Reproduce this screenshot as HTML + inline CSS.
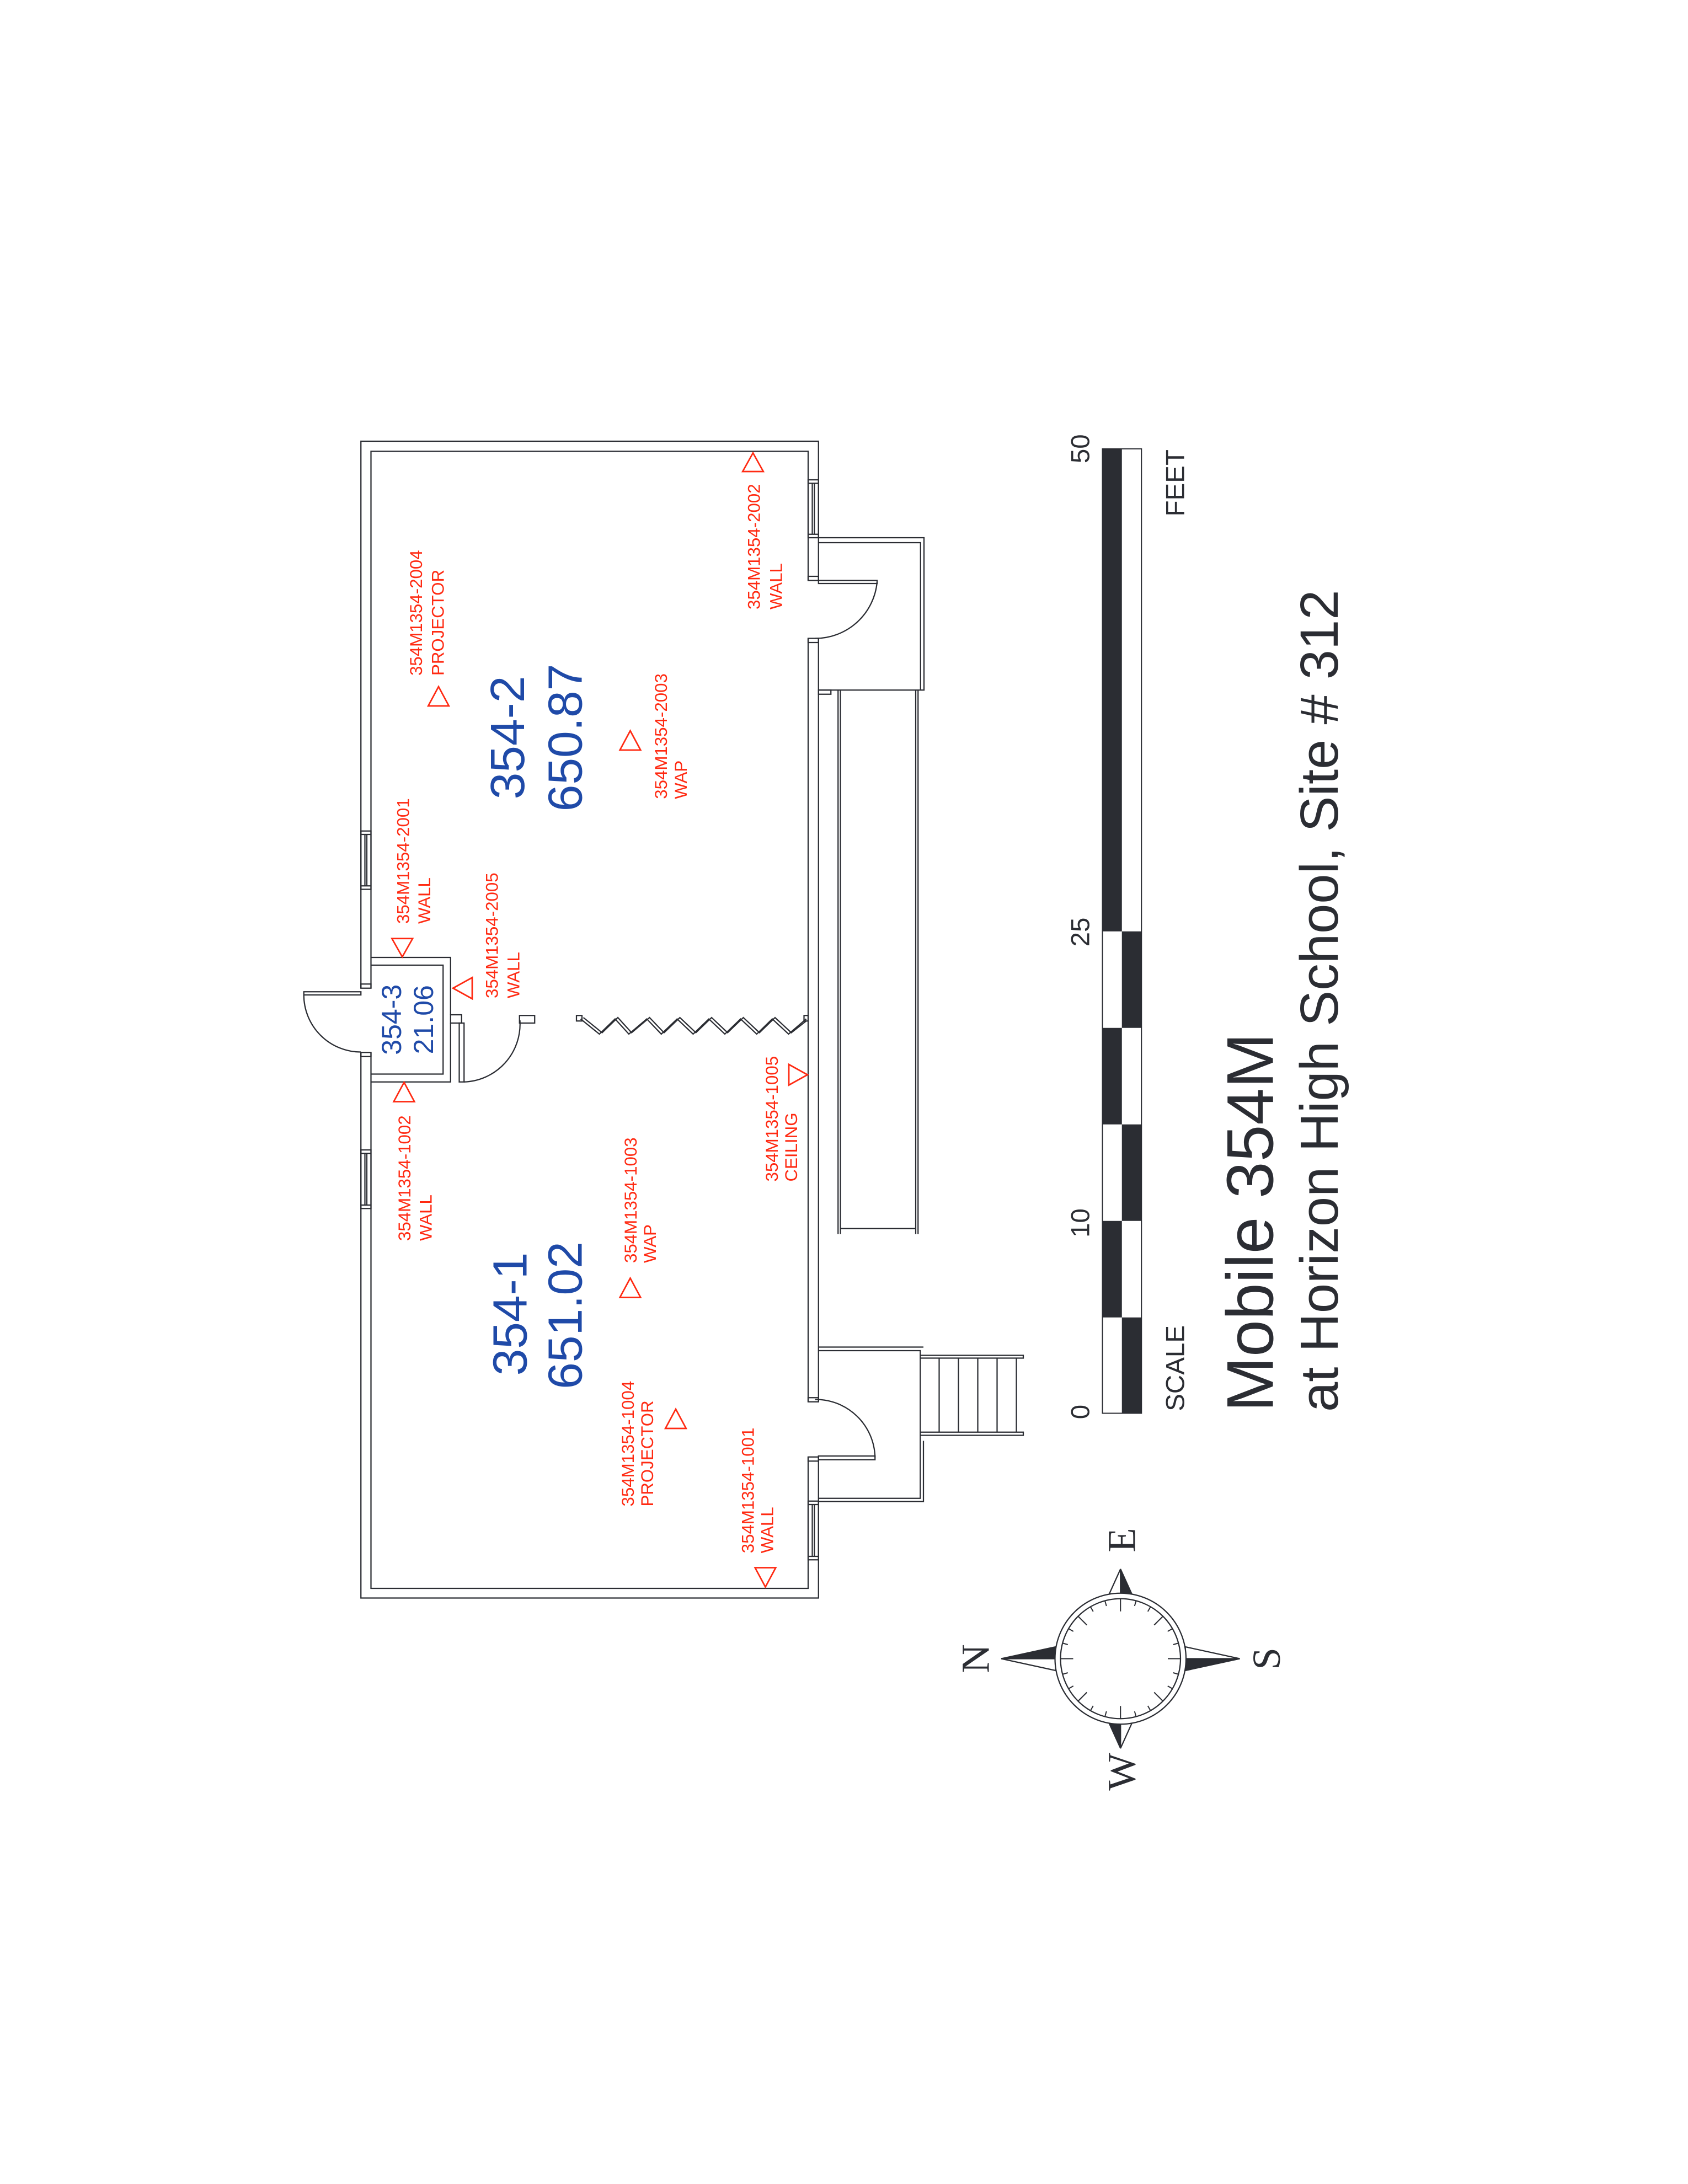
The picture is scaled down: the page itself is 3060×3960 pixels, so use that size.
<!DOCTYPE html>
<html><head><meta charset="utf-8"><style>
html,body{margin:0;padding:0;background:#fff;}
svg{display:block;}
text{font-family:"Liberation Sans",Arial,sans-serif;}
text.serif{font-family:"Liberation Serif","DejaVu Serif",serif;}
.r{fill:#ff2a12;font-size:12.5px;}
.b{fill:#1f4aa8;}
.k{fill:#2b2d33;}
</style></head><body>
<svg width="3060" height="3960" viewBox="0 0 1224 1584" xmlns="http://www.w3.org/2000/svg">
<rect width="1224" height="1584" fill="#fff"/>
<g fill="none" stroke="#2b2d33" stroke-width="0.9">
<rect x="261.7" y="320" width="331.8" height="839"/>
<rect x="269" y="327.3" width="317" height="824.7"/>
</g>
<g fill="#fff">
<rect x="584" y="421" width="11" height="42"/>
<rect x="584" y="1016.7" width="11" height="40"/>
<rect x="260" y="716.7" width="11" height="46.6"/>
</g>
<g fill="none" stroke="#2b2d33" stroke-width="0.9">
<rect x="586" y="418" width="7.5" height="3"/><rect x="586" y="463" width="7.5" height="3"/>
<rect x="586" y="1013.7" width="7.5" height="3"/><rect x="586" y="1056.7" width="7.5" height="3"/>
<rect x="261.7" y="713.7" width="7.3" height="3"/><rect x="261.7" y="763.3" width="7.3" height="3"/>
<g>
<rect x="586" y="348" width="7.5" height="42"/><line x1="586" y1="350.5" x2="593.5" y2="350.5"/><line x1="586" y1="387.5" x2="593.5" y2="387.5"/><line x1="589" y1="350.5" x2="589" y2="387.5"/><line x1="590.5" y1="350.5" x2="590.5" y2="387.5"/>
<rect x="586" y="1088.7" width="7.5" height="42.6"/><line x1="586" y1="1091.2" x2="593.5" y2="1091.2"/><line x1="586" y1="1128.8" x2="593.5" y2="1128.8"/><line x1="589" y1="1091.2" x2="589" y2="1128.8"/><line x1="590.5" y1="1091.2" x2="590.5" y2="1128.8"/>
<rect x="261.7" y="602.7" width="7.3" height="42.3"/><line x1="261.7" y1="605.2" x2="269" y2="605.2"/><line x1="261.7" y1="642.5" x2="269" y2="642.5"/><line x1="264.6" y1="605.2" x2="264.6" y2="642.5"/><line x1="266" y1="605.2" x2="266" y2="642.5"/>
<rect x="261.7" y="834" width="7.3" height="42.5"/><line x1="261.7" y1="836.5" x2="269" y2="836.5"/><line x1="261.7" y1="874" x2="269" y2="874"/><line x1="264.6" y1="836.5" x2="264.6" y2="874"/><line x1="266" y1="836.5" x2="266" y2="874"/>
</g>
<rect x="593.5" y="421" width="42.5" height="2.2"/>
<path d="M636 422 A45 45 0 0 1 591 463"/>
<path d="M593.5 390 H670 V500.5 H593.5"/>
<path d="M593.5 393.6 H667.5 V500.5"/>
<rect x="593.5" y="500.5" width="9" height="3"/>
<line x1="607.7" y1="500.5" x2="607.7" y2="895"/><line x1="609.4" y1="500.5" x2="609.4" y2="895"/>
<line x1="664" y1="500.5" x2="664" y2="895"/><line x1="665.7" y1="500.5" x2="665.7" y2="895"/>
<line x1="609.4" y1="891" x2="664" y2="891"/>
<path d="M593.5 977 H669.6"/>
<path d="M593.5 979.6 H667.3 V1086.7 H593.5"/>
<path d="M669.6 1045 V1089 H593.5"/>
<rect x="593.5" y="1056" width="41" height="2.7"/>
<path d="M634.5 1057 A43 43 0 0 0 591 1015"/>
<path d="M667.3 983 H742 V985 H667.3"/>
<path d="M667.3 1038.7 H742 V1041 H667.3"/>
<line x1="681" y1="985" x2="681" y2="1038.7"/><line x1="695" y1="985" x2="695" y2="1038.7"/><line x1="709" y1="985" x2="709" y2="1038.7"/><line x1="723" y1="985" x2="723" y2="1038.7"/><line x1="737" y1="985" x2="737" y2="1038.7"/>
<path d="M269 694.4 H326.7 V736"/>
<path d="M326.7 742 V784.7 H269"/>
<path d="M269 700 H321.3 V779 H269"/>
<rect x="326.7" y="736" width="8" height="6"/>
<rect x="333" y="742" width="3.5" height="42.7"/>
<path d="M336.5 784.7 A42 42 0 0 0 377 740"/>
<rect x="376.7" y="736.5" width="11" height="5.5"/>
<rect x="220.3" y="719.3" width="41.4" height="2.3"/>
<path d="M220.3 721.6 A41.4 41.4 0 0 0 261.7 763"/>
<rect x="418" y="736.5" width="4" height="4"/>
<rect x="583" y="736.5" width="3" height="4"/>
<polyline points="421,739 434.6,750 446,739 456,750 469,739 479.5,750 491,739 502.6,750 514,739 525.6,750 537,739 548.7,750 560,739 571.8,750 584.6,739"/>
<polyline points="423,738 436.6,749 448,738 458,749 471,738 481.5,749 493,738 504.6,749 516,738 527.6,749 539,738 550.7,749 562,738 573.8,749 584.6,740.5"/>
</g>

<g fill="none" stroke="#ff2a12" stroke-width="1.1">
<polygon points="546,328.5 538.5,342 553.5,342"/>
<polygon points="318,498 310.5,512 325.5,512"/>
<polygon points="457,530 449.5,544 464.5,544"/>
<polygon points="291.7,694 284.2,680.7 299.2,680.7"/>
<polygon points="328.5,716.7 342.4,709 342.4,724.4"/>
<polygon points="293,785 285.5,799 300.5,799"/>
<polygon points="457,927 449.5,941 464.5,941"/>
<polygon points="490,1022 482.5,1036 497.5,1036"/>
<polygon points="555,1151 547.5,1137 562.5,1137"/>
<polygon points="585.5,779.5 572,772 572,787"/>
</g>

<g class="r">
<text transform="translate(306,490) rotate(-90)">354M1354-2004</text>
<text transform="translate(321.7,490) rotate(-90)">PROJECTOR</text>
<text transform="translate(551,442) rotate(-90)">354M1354-2002</text>
<text transform="translate(567,442) rotate(-90)">WALL</text>
<text transform="translate(483.5,579.5) rotate(-90)">354M1354-2003</text>
<text transform="translate(498,579.5) rotate(-90)">WAP</text>
<text transform="translate(296.5,670) rotate(-90)">354M1354-2001</text>
<text transform="translate(312,670) rotate(-90)">WALL</text>
<text transform="translate(361,724) rotate(-90)">354M1354-2005</text>
<text transform="translate(376.5,724) rotate(-90)">WALL</text>
<text transform="translate(297.5,900) rotate(-90)">354M1354-1002</text>
<text transform="translate(313,900) rotate(-90)">WALL</text>
<text transform="translate(461.5,916) rotate(-90)">354M1354-1003</text>
<text transform="translate(475.5,916) rotate(-90)">WAP</text>
<text transform="translate(459.5,1092.6) rotate(-90)">354M1354-1004</text>
<text transform="translate(473.5,1092.6) rotate(-90)">PROJECTOR</text>
<text transform="translate(546.5,1126.5) rotate(-90)">354M1354-1001</text>
<text transform="translate(560.5,1126.5) rotate(-90)">WALL</text>
<text transform="translate(564,857) rotate(-90)">354M1354-1005</text>
<text transform="translate(578,857) rotate(-90)">CEILING</text>
</g>

<g class="b" text-anchor="middle">
<text font-size="35" transform="translate(380,535) rotate(-90)">354-2</text>
<text font-size="35" transform="translate(421.7,535) rotate(-90)">650.87</text>
<text font-size="35" transform="translate(381.7,953) rotate(-90)">354-1</text>
<text font-size="35" transform="translate(421.7,954) rotate(-90)">651.02</text>
<text font-size="20" transform="translate(290.7,739.5) rotate(-90)">354-3</text>
<text font-size="20" transform="translate(314,739.5) rotate(-90)">21.06</text>
</g>

<g>
<rect x="799.4" y="325.5" width="28.3" height="699.5" fill="#fff" stroke="#2b2d33" stroke-width="0.8"/>
<rect x="799.4" y="325.5" width="14.1" height="350" fill="#2b2d33"/>
<rect x="813.5" y="675.5" width="14.2" height="70" fill="#2b2d33"/>
<rect x="799.4" y="745.5" width="14.1" height="70" fill="#2b2d33"/>
<rect x="813.5" y="815.5" width="14.2" height="70" fill="#2b2d33"/>
<rect x="799.4" y="885.5" width="14.1" height="70" fill="#2b2d33"/>
<rect x="813.5" y="955.5" width="14.2" height="69.5" fill="#2b2d33"/>
</g>
<g class="k" font-size="19">
<text text-anchor="middle" transform="translate(789.7,325.5) rotate(-90)">50</text>
<text text-anchor="middle" transform="translate(789.7,676) rotate(-90)">25</text>
<text text-anchor="middle" transform="translate(789.7,887) rotate(-90)">10</text>
<text text-anchor="middle" transform="translate(789.7,1024) rotate(-90)">0</text>
<text text-anchor="end" transform="translate(858.5,326) rotate(-90)">FEET</text>
<text transform="translate(858.5,1023.5) rotate(-90)">SCALE</text>
<text font-size="48" transform="translate(923,1024) rotate(-90)">Mobile 354M</text>
<text font-size="39" transform="translate(970,1024) rotate(-90)">at Horizon High School, Site # 312</text>
</g>

<g transform="translate(812.5,1203)" stroke="#2b2d33" stroke-width="0.9">
<polygon points="-86.5,0 -47,-8.6 -47,0" fill="#2b2d33"/>
<polygon points="-86.5,0 -47,8.6 -47,0" fill="#fff"/>
<polygon points="86.5,0 47,8.6 47,0" fill="#2b2d33"/>
<polygon points="86.5,0 47,-8.6 47,0" fill="#fff"/>
<polygon points="0,-65 8.6,-46 0,-46" fill="#2b2d33"/>
<polygon points="0,-65 -8.6,-46 0,-46" fill="#fff"/>
<polygon points="0,65 -8.6,46 0,46" fill="#2b2d33"/>
<polygon points="0,65 8.6,46 0,46" fill="#fff"/>
<circle r="47.5" fill="#fff"/>
<circle r="43.5" fill="#fff"/>
<g stroke-width="0.8">
<line x1="43.5" y1="0" x2="34.3" y2="0"/><line x1="-43.5" y1="0" x2="-34.3" y2="0"/>
<line x1="0" y1="43.5" x2="0" y2="34.3"/><line x1="0" y1="-43.5" x2="0" y2="-34.3"/>
<line x1="30.8" y1="30.8" x2="24.4" y2="24.4"/><line x1="-30.8" y1="30.8" x2="-24.4" y2="24.4"/>
<line x1="30.8" y1="-30.8" x2="24.4" y2="-24.4"/><line x1="-30.8" y1="-30.8" x2="-24.4" y2="-24.4"/>
<line x1="42" y1="11.3" x2="38.2" y2="10.2"/><line x1="37.7" y1="21.8" x2="34.2" y2="19.8"/>
<line x1="21.8" y1="37.7" x2="19.8" y2="34.2"/><line x1="11.3" y1="42" x2="10.2" y2="38.2"/>
<line x1="-42" y1="11.3" x2="-38.2" y2="10.2"/><line x1="-37.7" y1="21.8" x2="-34.2" y2="19.8"/>
<line x1="-21.8" y1="37.7" x2="-19.8" y2="34.2"/><line x1="-11.3" y1="42" x2="-10.2" y2="38.2"/>
<line x1="42" y1="-11.3" x2="38.2" y2="-10.2"/><line x1="37.7" y1="-21.8" x2="34.2" y2="-19.8"/>
<line x1="21.8" y1="-37.7" x2="19.8" y2="-34.2"/><line x1="11.3" y1="-42" x2="10.2" y2="-38.2"/>
<line x1="-42" y1="-11.3" x2="-38.2" y2="-10.2"/><line x1="-37.7" y1="-21.8" x2="-34.2" y2="-19.8"/>
<line x1="-21.8" y1="-37.7" x2="-19.8" y2="-34.2"/><line x1="-11.3" y1="-42" x2="-10.2" y2="-38.2"/>
</g>
</g>
<g class="k" font-size="29" text-anchor="middle">
<text class="serif" transform="translate(717,1203) rotate(-90)">N</text>
<text class="serif" transform="translate(928,1203) rotate(-90)">S</text>
<text class="serif" transform="translate(823,1117) rotate(-90)">E</text>
<text class="serif" transform="translate(823,1285) rotate(-90)">W</text>
</g>
</svg>
</body></html>
